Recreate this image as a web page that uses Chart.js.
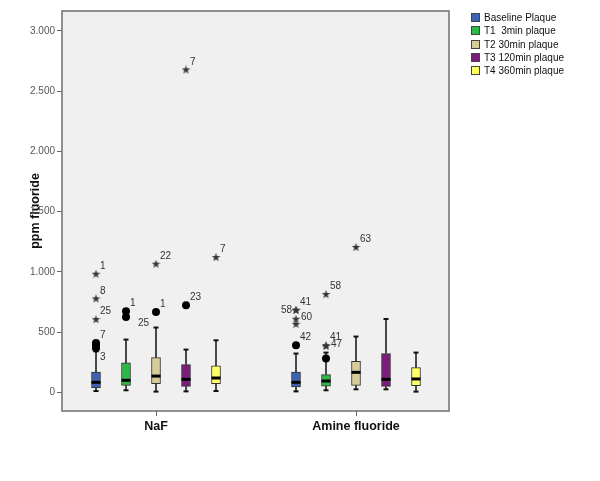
<!DOCTYPE html>
<html>
<head>
<meta charset="utf-8">
<script src="https://cdn.jsdelivr.net/npm/chart.js@4"></script>
<style>
  body { margin: 0; background: #fff; }
  #wrap { position: relative; width: 600px; height: 481px; }
  #legend { position: absolute; left: 471px; top: 11px; font: 10px 'Liberation Sans', Arial, sans-serif; color: #111; }
  #legend div { height: 13.3px; display: flex; align-items: center; white-space: pre; }
  #legend span { display: inline-block; width: 7px; height: 7px; border: 1px solid #444; margin-right: 4px; }
</style>
</head>
<body>
<div id="wrap">
  <canvas id="box-chart" width="600" height="481"></canvas>
  <div id="legend"></div>
</div>
<script>
const groups = ['NaF', 'Amine fluoride'];
const seriesNames = ['Baseline Plaque', 'T1  3min plaque', 'T2 30min plaque', 'T3 120min plaque', 'T4 360min plaque'];
const seriesColors = ['#3f63b0', '#2fb84a', '#d6cc9a', '#7b1e7a', '#ffff66'];

// box statistics, indexed [group][series]
const whiskerLow = [[11, 17, 6, 8, 11], [8, 17, 25, 25, 6]];
const q1 = [[36, 58, 72, 50, 72], [44, 52, 58, 50, 56]];
const median = [[83, 100, 135, 108, 119], [83, 94, 166, 108, 111]];
const q3 = [[169, 244, 288, 230, 219], [169, 147, 258, 322, 205]];
const whiskerHigh = [[340, 438, 538, 355, 432], [322, 330, 463, 609, 330]];

// outliers: [group, series, value, case number]
const circleOutliers = [
    [0, 0, 410, '7'], [0, 0, 388, ''], [0, 0, 366, '3'],
    [0, 1, 673, '1'], [0, 1, 626, '25'],
    [0, 2, 667, '1'], [0, 3, 723, '23'],
    [1, 0, 391, '42'], [1, 1, 280, ''],
];
const starOutliers = [
    [0, 0, 981, '1'], [0, 0, 776, '8'], [0, 0, 604, '25'],
    [0, 2, 1064, '22'], [0, 3, 2677, '7'], [0, 4, 1119, '7'],
    [1, 0, 682, '41'], [1, 0, 680, '58'], [1, 0, 607, '60'], [1, 0, 565, ''],
    [1, 1, 812, '58'], [1, 1, 387, '41'], [1, 1, 383, '47'],
    [1, 2, 1203, '63'],
];

const yTicks = [0, 500, 1000, 1500, 2000, 2500, 3000];

// where a case label goes if not up-right of its marker
const labelSide = { '0-0-3': 'down', '0-1-25': 'downFar', '1-0-58': 'left', '1-0-60': 'right', '1-1-47': 'right' };

const font = "'Liberation Sans', Arial, sans-serif";
Chart.defaults.font.family = font;

// x position of a box inside its group
const slot = (g, s) => g + (s - 2) * 0.15;

// small filled star for extreme values
const starImg = document.createElement('canvas');
starImg.width = starImg.height = 9;
const sc = starImg.getContext('2d');
sc.fillStyle = '#333';
sc.beginPath();
for (let i = 0; i < 10; i++) {
    const r = i % 2 ? 1.8 : 4.5;
    const a = -Math.PI / 2 + i * Math.PI / 5;
    sc.lineTo(4.5 + r * Math.cos(a), 4.5 + r * Math.sin(a));
}
sc.closePath();
sc.fill();

const boxSets = seriesNames.map((name, s) => ({
    type: 'bar',
    label: name,
    data: groups.map((_, g) => ({ x: slot(g, s), y: [q1[g][s], q3[g][s]] })),
    backgroundColor: seriesColors[s],
    borderColor: '#333',
    borderWidth: 1,
    borderSkipped: false,
    barThickness: 9,
    grouped: false,
    order: 2,
}));

const whiskerPts = [];
const capPts = [];
const medianPts = [];
groups.forEach((_, g) => seriesNames.forEach((_, s) => {
    const x = slot(g, s);
    whiskerPts.push({ x, y: whiskerHigh[g][s] }, { x, y: q3[g][s] }, { x, y: null },
        { x, y: q1[g][s] }, { x, y: whiskerLow[g][s] }, { x, y: null });
    capPts.push({ x, y: whiskerHigh[g][s] }, { x, y: whiskerLow[g][s] });
    medianPts.push({ x, y: median[g][s] });
}));

const toPoints = (list) => list.map(([g, s, v]) => ({ x: slot(g, s), y: v }));

const fmt = (v) => v >= 1000 ? Math.floor(v / 1000) + '.' + String(v % 1000).padStart(3, '0') : String(v);

// plot background and frame
const framePlugin = {
    id: 'frame',
    beforeDraw(chart) {
        const { ctx, chartArea: a } = chart;
        ctx.save();
        ctx.fillStyle = '#f0f0f0';
        ctx.fillRect(a.left, a.top, a.width, a.height);
        ctx.strokeStyle = '#6e6e6e';
        ctx.lineWidth = 1.5;
        ctx.strokeRect(a.left, a.top, a.width, a.height);
        ctx.restore();
    },
};

// case numbers next to outliers
const caseLabels = {
    id: 'caseLabels',
    afterDatasetsDraw(chart) {
        const { ctx, scales } = chart;
        ctx.save();
        ctx.font = '10px ' + font;
        ctx.fillStyle = '#333';
        ctx.textBaseline = 'middle';
        [...circleOutliers, ...starOutliers].forEach(([g, s, v, label]) => {
            if (!label) return;
            const px = scales.x.getPixelForValue(slot(g, s));
            const py = scales.y.getPixelForValue(v);
            const side = labelSide[g + '-' + s + '-' + label] || 'upRight';
            ctx.textAlign = 'left';
            if (side === 'upRight') ctx.fillText(label, px + 4, py - 8);
            else if (side === 'down') ctx.fillText(label, px + 4, py + 9);
            else if (side === 'downFar') ctx.fillText(label, px + 12, py + 6);
            else if (side === 'right') ctx.fillText(label, px + 5, py - 2);
            else if (side === 'left') { ctx.textAlign = 'right'; ctx.fillText(label, px - 4, py); }
        });
        ctx.restore();
    },
};

new Chart(document.getElementById('box-chart'), {
    type: 'bar',
    data: {
        datasets: [
            ...boxSets,
            {
                type: 'line', label: 'whiskers', data: whiskerPts,
                borderColor: '#111', borderWidth: 1.5, pointRadius: 0, spanGaps: false, order: 3,
            },
            {
                type: 'scatter', label: 'caps', data: capPts,
                pointStyle: 'line', pointRadius: 2.5, borderColor: '#111', borderWidth: 2, order: 1,
            },
            {
                type: 'scatter', label: 'medians', data: medianPts,
                pointStyle: 'line', pointRadius: 4.5, borderColor: '#000', borderWidth: 3, order: 1,
            },
            {
                type: 'scatter', label: 'outliers', data: toPoints(circleOutliers),
                pointStyle: 'circle', pointRadius: 4, backgroundColor: '#000', borderWidth: 0, order: 0,
            },
            {
                type: 'scatter', label: 'extremes', data: toPoints(starOutliers),
                pointStyle: starImg, order: 0,
            },
        ],
    },
    options: {
        responsive: false,
        animation: false,
        layout: { padding: { top: 11, right: 151, left: 0, bottom: 0 } },
        plugins: { legend: { display: false }, tooltip: { enabled: false } },
        scales: {
            x: {
                type: 'linear', min: -0.47, max: 1.465, offset: false,
                afterBuildTicks: (axis) => { axis.ticks = groups.map((_, i) => ({ value: i })); },
                afterFit: (axis) => { axis.height = 70; },
                ticks: {
                    callback: (v) => groups[v], autoSkip: false, maxRotation: 0,
                    font: { size: 12.5, weight: 'bold' }, color: '#111', padding: 3,
                },
                grid: { drawOnChartArea: false, offset: false, tickLength: 5, color: '#666' },
                border: { display: false },
            },
            y: {
                min: -155, max: 3166,
                afterBuildTicks: (axis) => { axis.ticks = yTicks.map((v) => ({ value: v })); },
                afterFit: (axis) => { axis.width = 62; },
                ticks: { callback: (v) => fmt(v), font: { size: 10 }, color: '#555', padding: 2 },
                grid: { drawOnChartArea: false, tickLength: 5, color: '#666' },
                border: { display: false },
                title: {
                    display: true, text: 'ppm fluoride', color: '#111',
                    font: { size: 12.5, weight: 'bold' }, padding: { top: 28, bottom: 0 },
                },
            },
        },
    },
    plugins: [framePlugin, caseLabels],
});

// legend as html next to the plot
const legend = document.getElementById('legend');
seriesNames.forEach((name, s) => {
    const row = document.createElement('div');
    row.innerHTML = `<span style="background:${seriesColors[s]}"></span>${name}`;
    legend.appendChild(row);
});
</script>
</body>
</html>
